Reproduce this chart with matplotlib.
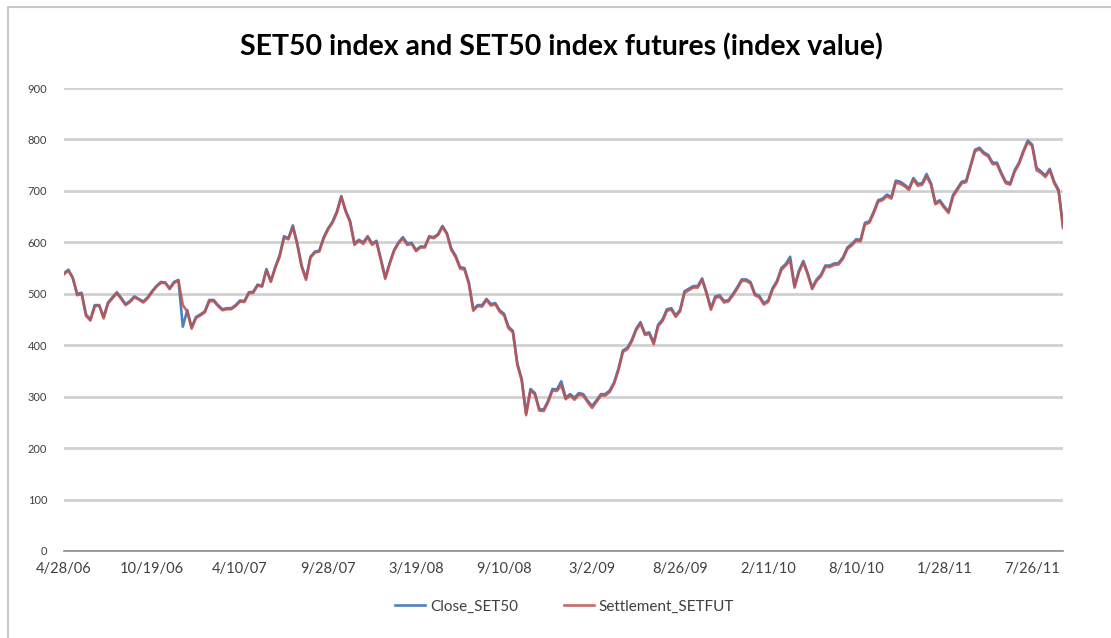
import matplotlib
matplotlib.use('Agg')
import matplotlib.pyplot as plt
from matplotlib.patches import Rectangle

plt.rcParams['font.family'] = ['Lato', 'DejaVu Sans']

# one value every 6 trading days
close_set50 = [
    540, 547, 530, 500, 502, 460, 450, 478, 478, 455,
    483, 493, 503, 492, 480, 486, 495, 490, 485, 493,
    505, 515, 523, 522, 511, 523, 527, 436, 468, 435,
    455, 460, 466, 488, 488, 478, 470, 472, 472, 478,
    487, 486, 503, 504, 518, 515, 548, 525, 552, 575,
    612, 608, 633, 598, 555, 530, 572, 582, 584, 610,
    627, 640, 660, 690, 662, 642, 598, 605, 600, 612,
    598, 603, 568, 532, 560, 585, 600, 610, 598, 599,
    585, 592, 592, 612, 610, 616, 632, 618, 588, 574,
    552, 550, 522, 470, 478, 478, 490, 480, 482, 468,
    461, 436, 428, 365, 335, 268, 315, 307, 276, 275,
    292, 315, 314, 330, 298, 305, 298, 307, 305, 292,
    282, 293, 305, 305, 312, 328, 355, 390, 395, 410,
    432, 445, 423, 425, 405, 440, 450, 470, 472, 458,
    469, 505, 510, 515, 515, 530, 503, 472, 495, 497,
    486, 488, 500, 513, 528, 528, 523, 500, 496, 482,
    487, 511, 525, 550, 558, 572, 515, 545, 564, 540,
    512, 528, 537, 555, 555, 559, 560, 571, 590, 597,
    606, 605, 638, 641, 660, 682, 685, 693, 688, 720,
    718, 712, 705, 725, 714, 715, 733, 715, 677, 682,
    670, 660, 692, 705, 718, 720, 750, 780, 784, 775,
    770, 755, 755, 735, 718, 715, 740, 755, 778, 798,
    790, 745, 738, 730, 743, 718, 702, 632,
]

settlement_setfut = [
    538, 545, 532, 497, 500, 457, 448, 476, 477, 452,
    481, 491, 501, 490, 478, 484, 493, 489, 483, 491,
    503, 514, 521, 521, 509, 521, 526, 478, 466, 432,
    453, 458, 464, 485, 486, 476, 468, 470, 470, 476,
    485, 484, 501, 502, 516, 514, 546, 523, 550, 572,
    609, 606, 630, 596, 552, 527, 570, 580, 582, 607,
    625, 638, 657, 688, 660, 639, 595, 603, 597, 610,
    595, 601, 565, 529, 558, 583, 598, 608, 595, 597,
    583, 590, 590, 610, 608, 614, 630, 616, 585, 571,
    549, 547, 519, 467, 476, 475, 488, 477, 480, 465,
    458, 433, 425, 362, 331, 264, 312, 304, 273, 272,
    289, 312, 311, 322, 295, 302, 294, 304, 302, 289,
    278, 290, 302, 302, 309, 325, 352, 387, 392, 407,
    429, 442, 420, 422, 402, 437, 447, 467, 469, 455,
    466, 502, 507, 512, 512, 527, 500, 469, 492, 494,
    483, 485, 497, 510, 525, 525, 520, 497, 493, 479,
    484, 508, 522, 546, 555, 565, 512, 542, 561, 537,
    509, 525, 534, 552, 552, 556, 557, 568, 587, 594,
    603, 602, 635, 638, 657, 679, 682, 690, 685, 716,
    714, 709, 702, 722, 710, 712, 728, 712, 674, 679,
    667, 657, 689, 702, 715, 717, 747, 777, 781, 772,
    767, 752, 752, 732, 715, 712, 737, 752, 775, 795,
    787, 740, 735, 727, 740, 715, 699, 628,
]

date_labels = ['4/28/06', '10/19/06', '4/10/07', '9/28/07', '3/19/08', '9/10/08',
               '3/2/09', '8/26/09', '2/11/10', '8/10/10', '1/28/11', '7/26/11']
label_every = 20  # points between date labels (120 trading days)

fig = plt.figure(figsize=(11.11, 6.38), dpi=100)
ax = fig.add_axes([0.0576, 0.1364, 0.8992, 0.7256])

x = list(range(len(close_set50)))
ax.plot(x, close_set50, color='#4F81BD', lw=1.9, label='Close_SET50', zorder=3)
ax.plot(x, settlement_setfut, color='#C0504D', lw=1.9, alpha=0.85,
        label='Settlement_SETFUT', zorder=4)

ax.set_xlim(0, len(close_set50) - 1)
ax.set_ylim(0, 900)
ax.set_yticks(range(0, 1000, 100))
ax.set_xticks([i * label_every for i in range(len(date_labels))])
ax.set_xticklabels(date_labels)

ax.yaxis.grid(True, color='#d0d0d0', lw=2)
ax.set_axisbelow(True)
for s in ['top', 'right', 'left']:
    ax.spines[s].set_visible(False)
ax.spines['bottom'].set_color('#8c8c8c')
ax.spines['bottom'].set_linewidth(1.2)
ax.tick_params(axis='both', length=0, colors='#404040')
ax.tick_params(axis='x', labelsize=10.5, pad=8)
ax.tick_params(axis='y', labelsize=8, pad=12)

fig.text(0.505, 0.926, 'SET50 index and SET50 index futures (index value)',
         ha='center', va='center', fontsize=20.5, fontweight='bold', color='black')

fig.legend(loc='center', bbox_to_anchor=(0.508, 0.049), ncol=2, frameon=False,
           fontsize=11, handlelength=2.0, handletextpad=0.3, columnspacing=3.0,
           labelcolor='#404040')

fig.add_artist(Rectangle((8 / 1111, -0.2), 1.3, 1.2 - 7 / 638,
                         transform=fig.transFigure, fill=False,
                         edgecolor='#c8c8c8', lw=1.5))

fig.savefig('out.png', dpi=100)
